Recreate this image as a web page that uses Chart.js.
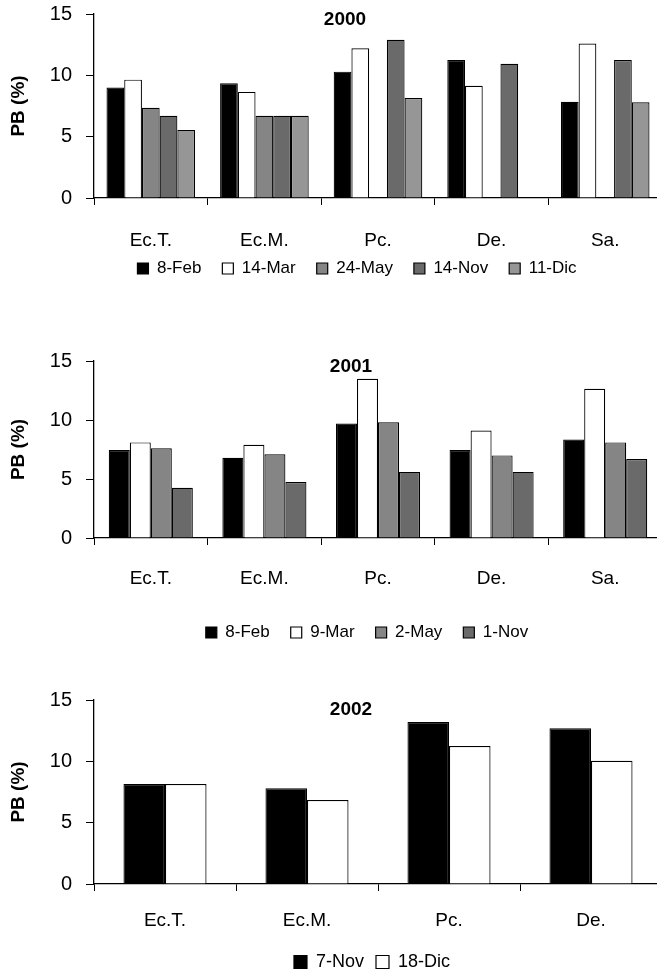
<!DOCTYPE html>
<html>
<head>
<meta charset="utf-8">
<script src="https://cdn.jsdelivr.net/npm/chart.js@4.4.0/dist/chart.umd.min.js"></script>
<style>
  html, body { margin: 0; padding: 0; background: #fff; overflow: hidden; }
  body { width: 657px; height: 977px; position: relative; }
  .box { position: absolute; left: 0; width: 665px; }
  #box2000 { top: 0; height: 300px; }
  #box2001 { top: 300px; height: 355px; }
  #box2002 { top: 655px; height: 330px; }
</style>
</head>
<body>
<div class="box" id="box2000"><canvas id="chart2000"></canvas></div>
<div class="box" id="box2001"><canvas id="chart2001"></canvas></div>
<div class="box" id="box2002"><canvas id="chart2002"></canvas></div>
<script>
// sites (categories)
const sites = ["Ec.T.", "Ec.M.", "Pc.", "De.", "Sa."];
const sites2002 = ["Ec.T.", "Ec.M.", "Pc.", "De."];
const yTicks = [0, 5, 10, 15];

// 2000
const dates2000 = ["8-Feb", "14-Mar", "24-May", "14-Nov", "11-Dic"];
const feb8_2000 = [9.0, 9.35, 10.3, 11.25, 7.85];
const mar14_2000 = [9.65, 8.65, 12.2, 9.15, 12.6];
const may24_2000 = [7.35, 6.7, null, null, null];
const nov14_2000 = [6.7, 6.7, 12.9, 10.95, 11.25];
const dic11_2000 = [5.55, 6.7, 8.15, null, 7.8];

// 2001
const dates2001 = ["8-Feb", "9-Mar", "2-May", "1-Nov"];
const feb8_2001 = [7.45, 6.8, 9.7, 7.45, 8.35];
const mar9_2001 = [8.1, 7.9, 13.5, 9.1, 12.65];
const may2_2001 = [7.6, 7.1, 9.8, 7.0, 8.1];
const nov1_2001 = [4.25, 4.75, 5.6, 5.6, 6.7];

// 2002
const dates2002 = ["7-Nov", "18-Dic"];
const nov7_2002 = [8.15, 7.8, 13.2, 12.7];
const dic18_2002 = [8.15, 6.85, 11.25, 10.05];

const colors = ["#000000", "#ffffff", "#858585", "#6a6a6a", "#969696"];

Chart.defaults.font.family = "'Liberation Sans', Arial, sans-serif";
Chart.defaults.color = "#000";

function createChart(id, year, labels, dates, series, o) {
  const datasets = series.map((values, i) => ({
    label: dates[i],
    data: values,
    backgroundColor: colors[i],
    borderColor: "#000",
    borderWidth: 1.2,
    borderSkipped: "bottom",
    categoryPercentage: o.catPct,
    barPercentage: 1.0,
  }));

  // year drawn inside the plot like the original, legend nudged into place
  const extras = {
    id: "extras",
    afterLayout(chart) {
      const lg = chart.legend;
      lg.left += o.legendDx;
      lg.right += o.legendDx;
      lg.top += o.legendDy;
      lg.bottom += o.legendDy;
    },
    afterDraw(chart) {
      const ctx = chart.ctx;
      ctx.save();
      ctx.font = "bold 19px 'Liberation Sans', Arial, sans-serif";
      ctx.fillStyle = "#000";
      ctx.textAlign = "center";
      ctx.textBaseline = "middle";
      ctx.fillText(year, o.titleX, o.titleY);
      ctx.restore();
    },
  };

  new Chart(document.getElementById(id), {
    type: "bar",
    data: { labels: labels, datasets: datasets },
    options: {
      responsive: true,
      maintainAspectRatio: false,
      animation: false,
      devicePixelRatio: 1,
      layout: { padding: { top: o.padTop, bottom: o.padBottom, left: 0, right: 3 } },
      plugins: {
        title: { display: false },
        tooltip: { enabled: false },
        legend: {
          position: "bottom",
          fullSize: false,
          labels: {
            boxWidth: o.legendBox,
            boxHeight: o.legendBox,
            padding: o.legendPad,
            font: { size: o.legendFont },
            color: "#000",
          },
        },
      },
      scales: {
        x: {
          grid: {
            drawOnChartArea: false,
            drawTicks: true,
            tickLength: 7,
            color: "#000",
            offset: true,
          },
          border: { color: "#000", width: 1.3 },
          ticks: { font: { size: 19 }, color: "#000", padding: o.xPad },
          afterFit: (s) => { s.height = o.xHeight; },
        },
        y: {
          min: 0,
          max: 15,
          afterBuildTicks: (s) => { s.ticks = yTicks.map((v) => ({ value: v })); },
          grid: { drawOnChartArea: false, drawTicks: true, tickLength: 8, color: "#000" },
          border: { color: "#000", width: 1.3 },
          ticks: { font: { size: 20 }, color: "#000", padding: 14 },
          title: {
            display: true,
            text: "PB (%)",
            font: { size: 19, weight: "bold" },
            color: "#000",
            padding: { top: 7, bottom: 0 },
          },
          afterFit: (s) => {
            s.width = 94;
            s.paddingTop = 0;
            s.paddingBottom = 0;
          },
        },
      },
    },
    plugins: [extras],
  });
}

createChart("chart2000", "2000", sites, dates2000,
  [feb8_2000, mar14_2000, may24_2000, nov14_2000, dic11_2000],
  { catPct: 0.78, padTop: 14, padBottom: 1, xHeight: 53, xPad: 24,
    legendFont: 17, legendBox: 11, legendPad: 21, legendDx: -21, legendDy: -12,
    titleX: 345, titleY: 20 });

createChart("chart2001", "2001", sites, dates2001,
  [feb8_2001, mar9_2001, may2_2001, nov1_2001],
  { catPct: 0.74, padTop: 61, padBottom: 4, xHeight: 65, xPad: 22,
    legendFont: 17, legendBox: 11, legendPad: 21, legendDx: -11, legendDy: 0,
    titleX: 351, titleY: 67 });

createChart("chart2002", "2002", sites2002, dates2002,
  [nov7_2002, dic18_2002],
  { catPct: 0.585, padTop: 45, padBottom: 10, xHeight: 51, xPad: 18,
    legendFont: 18, legendBox: 13, legendPad: 12, legendDx: -6, legendDy: 6,
    titleX: 351, titleY: 55 });
</script>
</body>
</html>
